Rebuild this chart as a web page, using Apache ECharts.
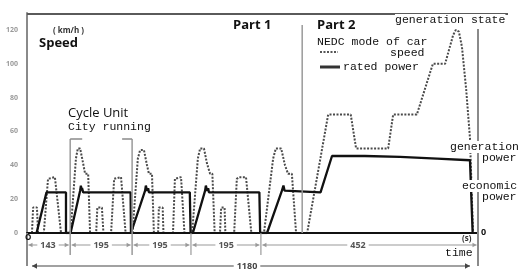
<!DOCTYPE html>
<html><head><meta charset="utf-8">
<script src="https://cdn.jsdelivr.net/npm/echarts@6/dist/echarts.min.js"></script>
<style>html,body{margin:0;padding:0;background:#fff}#c{width:519px;height:280px}</style>
</head><body><div id="c"></div>
<script>
// ---- data (time axis is the picture's own 0..1180 s scale) ----
const yTicks = [0, 20, 40, 60, 80, 100, 120];
const speedT = [13,16,26,29, 44,55,60,73,78,89,
  114,128,133,139,147,152,160,165, 181,184,196,200, 220,228,233,246,251,258,
  276,290,296,306,314,319,327,332, 343,345,355,357, 382,387,392,403,407,412,
  432,447,453,463,471,479,485,491, 505,508,517,519, 542,549,555,573,578,587,
  620,644,651,665,675,683,693,704,
  733,788,847,861,945,958,1020,1062,1094,1115,1122,1130,1138,1149,1159,1167];
const speedV = [0,15,15,0, 0,32,33,33,32,0,
  0,44,50,50,41,35,35,0, 0,15,15,0, 0,32,33,33,32,0,
  0,44,49,49,40,35,35,0, 0,15,15,0, 0,32,33,33,32,0,
  0,44,50,50,41,35,35,0, 0,15,15,0, 0,32,33,33,32,0,
  0,44,50,50,40,35,35,0,
  0,70,70,50,50,70,70,100,100,117,120,119,110,85,56,0];
const powerT = [25,51,102,102, 114,139,141,143,144,147,271,272,
  277,309,311,314,317,319,426,428, 434,466,468,471,474,476,608,610,
  628,667,671,674,676,679,768,798,884,976,1073,1159,1164,1166];
const powerV = [0,24,24,0, 0,25,28,25,26.5,24,24,0,
  0,25,28,25,26.5,24,24,0, 0,25,28,25,26.5,24,24,0,
  0,25,28,25,26,24,24,45.5,45.5,45,44,43,42,0];
const segBounds = [0, 113, 275, 429, 612, 1180];
const segLabels = ['143', '195', '195', '195', '452'];
const segLabelT = [55, 194, 348, 521, 866];
const partDividerT = 720;
const totalLabel = '1180';
const seriesNames = ['speed', 'rated power'];

const zip = (a, b) => a.map((t, i) => [t, b[i]]);
const MONO = '"Liberation Mono", "DejaVu Sans Mono", monospace';
const SANS = '"Open Sans", "Noto Sans", sans-serif';

const chart = echarts.init(document.getElementById('c'), null, {renderer: 'canvas'});
chart.setOption({
  animation: false,
  backgroundColor: '#fff',
  grid: {left: 27, right: 41, top: 13, bottom: 47, containLabel: false, outerBoundsMode: 'none'},
  xAxis: {type: 'value', min: 0, max: 1180, z: 5,
    axisLine: {show: true, onZero: false, lineStyle: {color: '#111', width: 2}},
    axisTick: {show: false}, axisLabel: {show: false}, splitLine: {show: false}},
  yAxis: {type: 'value', min: 0, max: 130, interval: 20,
    axisLine: {show: true, lineStyle: {color: '#8a8a8a', width: 2}},
    axisTick: {show: false}, splitLine: {show: false},
    axisLabel: {color: '#9a9a9a', fontSize: 7, margin: 9, fontFamily: SANS, fontWeight: 'bold',
      formatter: v => yTicks.includes(v) ? String(v) : ''}},
  series: [
    {name: seriesNames[0], type: 'line', showSymbol: false, z: 2,
      data: zip(speedT, speedV),
      lineStyle: {color: '#4a4a4a', width: 2, type: [2, 1.5]}},
    {name: seriesNames[1], type: 'line', showSymbol: false, z: 3,
      data: zip(powerT, powerV),
      lineStyle: {color: '#111', width: 2.3}}
  ]
});

const P = (t, v) => chart.convertToPixel({gridIndex: 0}, [t, v]);
const [x0, yB] = P(0, 0);
const xE = P(1180, 0)[0];
const g = [];
function line(x1, y1, x2, y2, stroke, w, dash) {
  g.push({type: 'line', silent: true, z: 10, shape: {x1, y1, x2, y2},
    style: {stroke, lineWidth: w, lineDash: dash || null}});
}
function text(s, x, y, font, opts) {
  g.push({type: 'text', silent: true, z: 20, x, y,
    style: Object.assign({text: s, font, fill: '#111', align: 'left', verticalAlign: 'middle'}, opts || {})});
}
function arrow(x, y, dir, size, color) {
  g.push({type: 'polygon', silent: true, z: 11,
    shape: {points: [[x, y], [x - dir * size, y - size * 0.55], [x - dir * size, y + size * 0.55]]},
    style: {fill: color}});
}
// frame
line(x0, 14, 508, 14, '#5a5a5a', 2);
line(x0, yB, x0, 266, '#8a8a8a', 2);
line(xE, 29, xE, 266, '#8a8a8a', 2);
const xDiv = P(partDividerT, 0)[0];
line(xDiv, 25, xDiv, yB, '#9a9a9a', 1.5);
// bracket for cycle unit
const xb1 = P(segBounds[1], 0)[0], xb2 = P(segBounds[2], 0)[0];
line(xb1, 139, xb1, 255, '#9a9a9a', 1.5);
line(xb2, 139, xb2, 255, '#9a9a9a', 1.5);
line(xb1, 139, xb1 + 12, 139, '#8a8a8a', 1.5);
line(xb2 - 10, 139, xb2, 139, '#8a8a8a', 1.5);
// separators
for (let i = 3; i < segBounds.length - 1; i++) {
  const x = P(segBounds[i], 0)[0];
  line(x, yB, x, 255, '#9a9a9a', 1.2);
}
// dimension row
const yD = 245;
for (let i = 0; i < segLabels.length; i++) {
  const xa = P(segBounds[i], 0)[0] + 1.5, xbb = P(segBounds[i + 1], 0)[0] - 1.5;
  line(xa, yD, xbb, yD, '#999', 1);
  arrow(xa, yD, -1, 4, '#999');
  arrow(xbb, yD, 1, 4, '#999');
  text(segLabels[i], P(segLabelT[i], 0)[0], yD, 'bold 9px ' + SANS,
    {align: 'center', fill: '#555', backgroundColor: '#fff', padding: [0, 3]});
}
// total row
const yT = 266;
line(x0 + 5, yT, xE - 8, yT, '#444', 1.2);
arrow(x0 + 5, yT, -1, 5, '#444');
arrow(xE - 8, yT, 1, 5, '#444');
text(totalLabel, 247, yT, 'bold 9px ' + SANS, {align: 'center', fill: '#444', backgroundColor: '#fff', padding: [0, 3]});
// labels
text('( km/h )', 53, 31, 'bold 8px ' + SANS, {fill: '#333'});
text('Speed', 39, 43, 'bold 13px ' + SANS);
text('Part 1', 233, 25, 'bold 13px ' + SANS);
text('Part 2', 317, 25, 'bold 13px ' + SANS);
text('generation state', 395, 20, '11.5px ' + MONO, {backgroundColor: '#fff'});
text('NEDC mode of car', 317, 42, '11.5px ' + MONO);
text('speed', 390, 53, '11.5px ' + MONO);
text('rated power', 343, 67, '11.5px ' + MONO);
line(320, 52, 338, 52, '#555', 1.8, [2, 1.5]);
line(320, 67, 340, 67, '#333', 3);
text('Cycle Unit', 68, 113, '13px ' + SANS);
text('City running', 68, 127, '11.5px ' + MONO);
text('generation', 450, 147, '11.5px ' + MONO, {backgroundColor: '#fff'});
text('power', 482, 158, '11.5px ' + MONO);
text('economic', 462, 186, '11.5px ' + MONO, {backgroundColor: '#fff'});
text('power', 482, 197, '11.5px ' + MONO);
text('0', 481, 232, 'bold 9px ' + SANS);
text('O', 25, 238, 'bold 8px ' + SANS);
text('(s)', 462, 239, 'bold 8px ' + SANS, {fill: '#333'});
text('time', 445, 253, '11.5px ' + MONO);
chart.setOption({graphic: {elements: g}});
</script>
</body></html>
